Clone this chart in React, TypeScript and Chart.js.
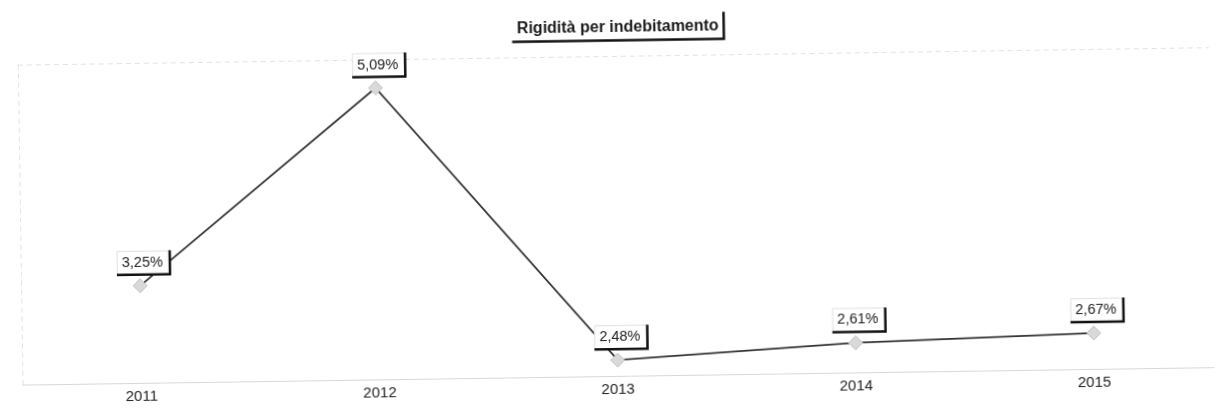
import React, { useEffect, useRef } from "react";
import { Chart, registerables } from "chart.js";

Chart.register(...registerables);

const categories: string[] = ["2011", "2012", "2013", "2014", "2015"];
const values: number[] = [3.25, 5.09, 2.48, 2.61, 2.67];
const chartTitle = "Rigidità per indebitamento";

const FONT = '"Liberation Sans", Arial, sans-serif';

const fmt = (v: number) => v.toFixed(2).replace(".", ",") + "%";

const decorPlugin = {
  id: "decor",
  beforeDatasetsDraw(chart: any) {
    const { ctx, chartArea } = chart;
    ctx.save();
    ctx.strokeStyle = "#e2e2e2";
    ctx.lineWidth = 1;
    ctx.setLineDash([5, 4]);
    ctx.beginPath();
    ctx.moveTo(chartArea.left, chartArea.top + 0.5);
    ctx.lineTo(chartArea.right, chartArea.top + 0.5);
    ctx.moveTo(chartArea.left + 0.5, chartArea.top);
    ctx.lineTo(chartArea.left + 0.5, chartArea.bottom);
    ctx.stroke();
    ctx.restore();
  },
  afterDraw(chart: any) {
    const { ctx, chartArea } = chart;
    ctx.save();
    // title box
    ctx.font = `bold 16px ${FONT}`;
    const tw = ctx.measureText(chartTitle).width;
    const cx = (chartArea.left + chartArea.right) / 2 + 5;
    const cy = 28;
    const bw = tw + 10;
    const bh = 25;
    const bl = cx - bw / 2;
    const bt = cy - bh / 2;
    ctx.fillStyle = "#ffffff";
    ctx.fillRect(bl, bt, bw, bh);
    ctx.fillStyle = "#1a1a1a";
    ctx.textAlign = "center";
    ctx.textBaseline = "middle";
    ctx.fillText(chartTitle, cx, cy);
    ctx.strokeStyle = "#111";
    ctx.lineWidth = 2.5;
    ctx.beginPath();
    ctx.moveTo(bl, bt + bh);
    ctx.lineTo(bl + bw, bt + bh);
    ctx.lineTo(bl + bw, bt - 2);
    ctx.stroke();

    // data labels
    const meta = chart.getDatasetMeta(0);
    ctx.font = `14.5px ${FONT}`;
    meta.data.forEach((pt: any, i: number) => {
      const text = fmt(values[i]);
      const w = ctx.measureText(text).width + 12;
      const h = 24;
      const right = pt.x + 30;
      const bottom = pt.y - 11;
      const left = right - w;
      const top = bottom - h;
      ctx.fillStyle = "#ffffff";
      ctx.fillRect(left, top, w, h);
      ctx.strokeStyle = "#e0e0e0";
      ctx.lineWidth = 1;
      ctx.beginPath();
      ctx.moveTo(left + 0.5, bottom);
      ctx.lineTo(left + 0.5, top + 0.5);
      ctx.lineTo(right, top + 0.5);
      ctx.stroke();
      ctx.fillStyle = "#222";
      ctx.textAlign = "center";
      ctx.textBaseline = "middle";
      ctx.fillText(text, left + w / 2 - 1, top + h / 2);
      ctx.strokeStyle = "#111";
      ctx.lineWidth = 2.5;
      ctx.beginPath();
      ctx.moveTo(left, bottom);
      ctx.lineTo(right, bottom);
      ctx.lineTo(right, top);
      ctx.stroke();
    });
    ctx.restore();
  },
};

export default function App() {
  const ref = useRef<HTMLCanvasElement | null>(null);

  useEffect(() => {
    if (!ref.current) return;
    const chart = new Chart(ref.current, {
      type: "line",
      data: {
        labels: categories,
        datasets: [
          {
            data: values,
            borderColor: "#333333",
            borderWidth: 1.8,
            pointStyle: "rectRot",
            pointRadius: 7,
            pointBackgroundColor: "#d9d9d9",
            pointBorderColor: "#c2c2c2",
            pointBorderWidth: 1,
            tension: 0,
          },
        ],
      },
      options: {
        animation: false,
        responsive: true,
        maintainAspectRatio: false,
        layout: { padding: { top: 56, left: 20, right: 4, bottom: 15 } },
        plugins: {
          legend: { display: false },
          title: { display: false },
          tooltip: { enabled: false },
        },
        scales: {
          x: {
            offset: true,
            grid: { display: false, drawTicks: false },
            border: { display: true, color: "#d8d8d8", dash: [5, 4] },
            ticks: {
              padding: 5,
              color: "#222",
              font: { family: FONT, size: 15 },
            },
          },
          y: {
            display: false,
            min: 2.33,
            max: 5.36,
          },
        },
      },
      plugins: [decorPlugin],
    });
    return () => chart.destroy();
  }, []);

  return (
    <div
      style={{
        position: "fixed",
        left: 0,
        top: 0,
        width: 1219,
        height: 419,
        background: "#fff",
        transform: "rotate(-0.84deg)",
      }}
    >
      <canvas ref={ref} />
    </div>
  );
}
